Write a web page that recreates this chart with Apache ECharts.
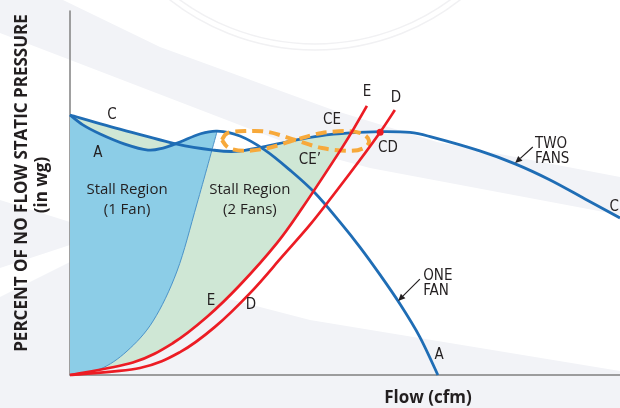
<!DOCTYPE html>
<html><head><meta charset="utf-8">
<script src="https://cdn.jsdelivr.net/npm/echarts@6/dist/echarts.min.js"></script>
<style>html,body{margin:0;padding:0;background:#fff}#c{width:620px;height:408px}</style>
</head><body><div id="c"></div>
<script>
// x: flow (% of one-fan free delivery), y: percent of no-flow static pressure
const twoFans = [[0,100],[14.5,94.2],[29.1,88.8],[38.9,86.5],[45,86],[52.5,87.7],[60,90],[68,92],[76.1,93.1],[84.3,93.6],[92.4,93.3],[98.4,91.5],[111.4,86.2],[121,81.2],[130.5,75],[140,67.7],[149.5,60.4]];
const oneFan = [[0,100],[3.5,96.2],[8.2,92.7],[14.9,88.8],[21.2,86.5],[25.3,87.3],[29.9,89.6],[35.3,92.7],[40,93.8],[46.2,91.9],[53,86.5],[59.8,78.8],[66.6,70],[73.4,58.8],[78.8,49.2],[84.3,38.5],[89.7,27.3],[95.1,14.6],[100,0]];
const surgeLine = [[0,0],[8.2,2.3],[15.5,9.2],[22.6,20.8],[29.1,40],[34.5,65.8],[40,93.8]];
const systemE = [[0,0],[17.1,4.8],[28,12.3],[37.2,22.3],[46.2,34.6],[56.3,50.8],[63.3,64.6],[73.4,86.2],[76.9,94.2],[80.7,103.5]];
const systemD = [[0,0],[19,2.7],[29.9,8.8],[39.4,18.5],[49.2,31.9],[57.6,45.4],[65.2,57.7],[72,70],[78.8,82.7],[84.3,93.4],[88.3,101.9]];
const pointCE = [76.4,93.1];
const pointCD = [84.3,93.4];
const unstableLoop = [[41.3,90.4],[42.9,93.1],[47.6,93.8],[53.8,93.5],[61.2,90.4],[68.5,87.3],[76.1,86.2],[79.9,87.3],[81.3,90],[79.6,92.7],[75.6,93.8],[68.5,93.1],[61.2,90.4],[53.8,87.3],[47.6,86.2],[43.2,87.3],[41.3,90.4]];
const labelTexts = ['C','A','Stall Region\n(1 Fan)','Stall Region\n(2 Fans)','CE','CE\u2019','CD','E','D','E','D','TWO\nFANS','ONE\nFAN','A','C'];

// annotation placement (data units) and styles
const labelPlace = [[11.4,100],[7.6,85.4],[15.5,67.3],[48.9,67.3],[71.2,98.1],[65.2,82.7],[86.4,87.3],[80.7,108.8],[88.6,106.5],[38.3,28.5],[49.2,26.9],[126.4,85.9],[96.0,35.2],[100.3,7.7],[147.9,64.6]];
const labelKind = ['c','c','s','s','c','c','c','c','c','c','c','cl','cl','c','c'];
const arrows = [[[125.8,87.7],[121,81.5]],[[95.1,36.9],[89.2,28.5]]];

const BLUE='#1f6db5', RED='#ec1c24', FILL_BLUE='#8ccde7', FILL_GREEN='#cfe7d5', ORANGE='#f7a93b', INK='#231f20';
const COND="15px 'Liberation Sans Narrow','DejaVu Sans Condensed',sans-serif";
const STALL="15px 'Open Sans',sans-serif";
const TITLE="bold 17px 'Open Sans',sans-serif";

function segs(p){
  let d='';
  for(let i=0;i<p.length-1;i++){
    const p0=p[i-1]||p[i], p1=p[i], p2=p[i+1], p3=p[i+2]||p2;
    const c1=[p1[0]+(p2[0]-p0[0])/6, p1[1]+(p2[1]-p0[1])/6];
    const c2=[p2[0]-(p3[0]-p1[0])/6, p2[1]-(p3[1]-p1[1])/6];
    d+=' C'+c1[0].toFixed(2)+' '+c1[1].toFixed(2)+' '+c2[0].toFixed(2)+' '+c2[1].toFixed(2)+' '+p2[0].toFixed(2)+' '+p2[1].toFixed(2);
  }
  return d;
}
function px(api,arr){return arr.map(v=>api.coord(v));}
function curvePath(api,arr){const p=px(api,arr);return 'M'+p[0][0]+' '+p[0][1]+segs(p);}
function areaPath(api,pieces){
  let d='';
  pieces.forEach((pc,k)=>{const p=px(api,pc); d+=(k===0?'M':' L')+p[0][0]+' '+p[0][1]+segs(p);});
  return d+' Z';
}
function custom(render,z){
  return {type:'custom',coordinateSystem:'cartesian2d',data:[[0,0]],silent:true,animation:false,clip:false,z:z,renderItem:(params,api)=>render(api)};
}

const greenTop = twoFans.filter(p=>p[0]<pointCE[0]).concat([pointCE]);
const greenRight = [pointCE].concat(systemE.filter(p=>p[1]<pointCE[1]).reverse());
const peakIdx = oneFan.findIndex(p=>p[0]===surgeLine[surgeLine.length-1][0]);
const blueTop = oneFan.slice(0,peakIdx+1);
const blueRight = surgeLine.slice().reverse();

const chart = echarts.init(document.getElementById('c'),null,{renderer:'canvas'});
const hidden = {axisTick:{show:false},axisLabel:{show:false},splitLine:{show:false}};
const txt = (t,x,y,rot)=>({type:'text',z:50,x:x,y:y,rotation:rot||0,style:{text:t,font:TITLE,fill:INK,textAlign:'center',textVerticalAlign:'middle',align:'center',verticalAlign:'middle'}});
chart.setOption({
  animation:false,
  backgroundColor:'#ffffff',
  grid:{left:70,right:0,top:11,bottom:33,containLabel:false},
  xAxis:Object.assign({type:'value',min:0,max:149.5,axisLine:{show:true,onZero:false,lineStyle:{color:'#808080',width:1.5}}},hidden),
  yAxis:Object.assign({type:'value',min:0,max:140,axisLine:{show:true,onZero:false,lineStyle:{color:'#808080',width:1.5}}},hidden),
  graphic:[
    {type:'polygon',z:-10,silent:true,shape:{points:[[0,0],[63,0],[160,47],[333,110],[437,142],[620,177],[620,215],[370,168],[310,152],[0,33]]},style:{fill:'#f2f3f7'}},
    {type:'polygon',z:-10,silent:true,shape:{points:[[0,297],[70,262],[233,300],[310,320],[620,371],[620,408],[0,408]]},style:{fill:'#f2f3f7'}},
    {type:'polygon',z:-10,silent:true,shape:{points:[[0,200],[70,222],[70,245],[0,268]]},style:{fill:'#f2f3f7'}},
    {type:'circle',z:-9,silent:true,shape:{cx:315,cy:-185,r:235},style:{fill:null,stroke:'#f1f1f3',lineWidth:1.5}},
    {type:'circle',z:-9,silent:true,shape:{cx:315,cy:-185,r:229},style:{fill:null,stroke:'#f1f1f3',lineWidth:1.5}},
    txt('PERCENT OF NO FLOW STATIC PRESSURE',22,183,Math.PI/2),
    txt('(in wg)',42,185,Math.PI/2),
    txt('Flow (cfm)',428,398,0)
  ],
  series:[
    custom(api=>({type:'path',shape:{pathData:areaPath(api,[greenTop,greenRight])},style:{fill:FILL_GREEN,stroke:null}}),1),
    custom(api=>({type:'path',shape:{pathData:areaPath(api,[blueTop,blueRight])},style:{fill:FILL_BLUE,stroke:null}}),2),
    custom(api=>({type:'path',shape:{pathData:curvePath(api,surgeLine)},style:{fill:null,stroke:'#4b93c9',lineWidth:1}}),3),
    custom(api=>({type:'group',children:[
      {type:'path',shape:{pathData:curvePath(api,oneFan)},style:{fill:null,stroke:BLUE,lineWidth:2.8}},
      {type:'path',shape:{pathData:curvePath(api,twoFans)},style:{fill:null,stroke:BLUE,lineWidth:2.8}}
    ]}),4),
    custom(api=>({type:'path',shape:{pathData:curvePath(api,unstableLoop)},style:{fill:null,stroke:ORANGE,lineWidth:4,lineDash:[11,6]}}),5),
    custom(api=>({type:'group',children:[
      {type:'path',shape:{pathData:curvePath(api,systemE)},style:{fill:null,stroke:RED,lineWidth:2.7}},
      {type:'path',shape:{pathData:curvePath(api,systemD)},style:{fill:null,stroke:RED,lineWidth:2.7}},
      (()=>{const c=api.coord(pointCD);return {type:'circle',shape:{cx:c[0],cy:c[1],r:3.5},style:{fill:RED}};})()
    ]}),6),
    custom(api=>{
      const ch=[];
      arrows.forEach(a=>{
        const s=api.coord(a[0]), e=api.coord(a[1]);
        const ang=Math.atan2(e[1]-s[1],e[0]-s[0]);
        const L=7,W=3.2;
        const b=[e[0]-L*Math.cos(ang),e[1]-L*Math.sin(ang)];
        ch.push({type:'line',shape:{x1:s[0],y1:s[1],x2:b[0],y2:b[1]},style:{stroke:INK,lineWidth:1.2}});
        ch.push({type:'polygon',shape:{points:[e,[b[0]+W*Math.sin(ang),b[1]-W*Math.cos(ang)],[b[0]-W*Math.sin(ang),b[1]+W*Math.cos(ang)]]},style:{fill:INK}});
      });
      labelTexts.forEach((t,i)=>{
        const c=api.coord(labelPlace[i]); const k=labelKind[i];
        const al = k==='cl'?'left':'center';
        ch.push({type:'text',x:c[0],y:c[1],style:{text:t,fill:INK,font:k==='s'?STALL:COND,lineHeight:k==='s'?20:15,textAlign:al,align:al,textVerticalAlign:'middle',verticalAlign:'middle'}});
      });
      return {type:'group',children:ch};
    },7)
  ]
});
</script></body></html>
